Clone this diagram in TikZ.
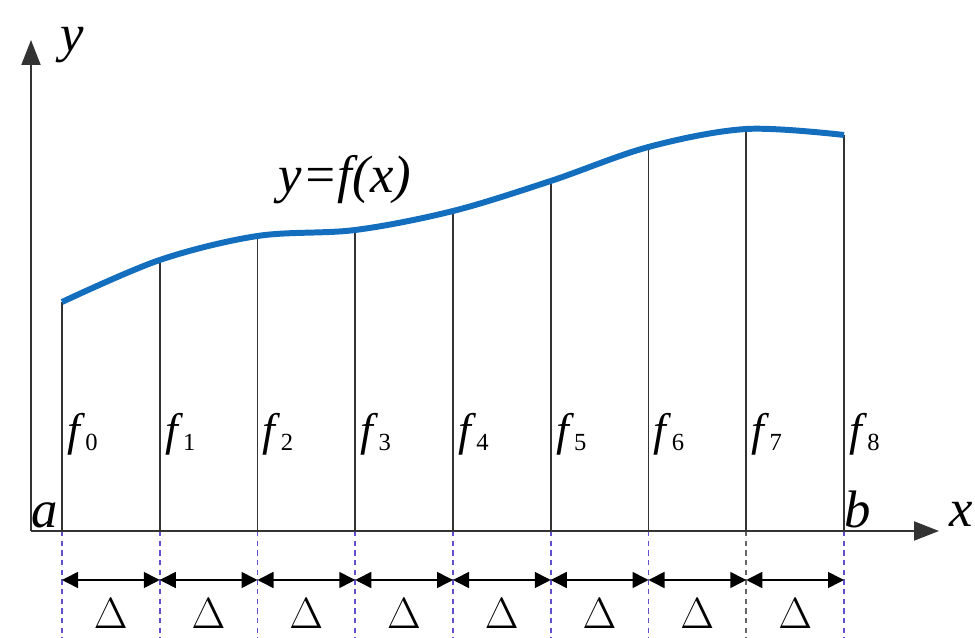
\documentclass[tikz,border=0pt]{standalone}
\usepackage{fontspec}
\setmainfont{Liberation Serif}
\usetikzlibrary{arrows.meta}
\definecolor{curveblue}{RGB}{20,110,190}
\definecolor{dashviolet}{RGB}{95,80,205}
\begin{document}
\begin{tikzpicture}[every node/.style={inner sep=0pt},
  axis/.style={line width=1.2pt,black!80,-{Triangle[length=0.5cm,width=0.38cm]}},
  ordinate/.style={line width=1pt,black!80},
  guide/.style={line width=1pt,dash pattern=on 3pt off 2.5pt},
  dim/.style={line width=0.9pt,{Triangle[length=0.32cm,width=0.32cm]}-{Triangle[length=0.32cm,width=0.32cm]}},
  lab/.style={font=\fontsize{30}{30}\selectfont\itshape,anchor=base},
  flab/.style={font=\fontsize{26}{26}\selectfont,anchor=base west},
  dlab/.style={font=\fontsize{33}{33}\selectfont,anchor=base}]
\useasboundingbox (0,0) rectangle (19.5,12.76);
\coordinate (O) at (0.62,2.14);
\coordinate (xtip) at (18.78,2.14);
\coordinate (ytip) at (0.62,11.96);
\foreach \i/\x/\y in {0/1.24/6.72,1/3.195/7.56,2/5.15/8.04,3/7.105/8.16,4/9.06/8.54,5/11.015/9.14,6/12.97/9.82,7/14.925/10.18,8/16.88/10.06}{
  \coordinate (t\i) at (\x,\y);
  \coordinate (b\i) at (\x,2.14);
  \coordinate (d\i) at (\x,1.16);
  \coordinate (e\i) at (\x,0);
  \draw[ordinate] (t\i) -- (b\i);
  \node[flab] (f\i) at (\x+0.1,3.85) {\textit{f}\raisebox{-0.25ex}{\fontsize{14}{14}\selectfont\i}};
}
\foreach \i/\c in {0/dashviolet,1/dashviolet,2/dashviolet,3/dashviolet,4/dashviolet,5/dashviolet,6/dashviolet,7/black!60,8/dashviolet}
  \draw[guide,\c] (b\i) -- (e\i);
\foreach \i [evaluate=\i as \j using int(\i+1)] in {0,...,7}
  \draw[dim] (d\i) -- (d\j) node[dlab,midway,yshift=-0.98cm] (D\i) {$\Delta$};
\draw[line width=3.4pt,curveblue] plot[smooth,tension=0.55] coordinates {(t0) (t1) (t2) (t3) (t4) (t5) (t6) (t7) (t8)};
\draw[axis] (O) -- (xtip);
\draw[axis] (O) -- (ytip);
\node[lab] (ylab) at (1.44,11.72) {y};
\node[lab] (xlab) at (19.22,2.22) {x};
\node[lab] (alab) at (0.9,2.2) {a};
\node[lab] (blab) at (17.16,2.2) {b};
\node[lab] (curvelab) at (6.9,8.9) {y=f(x)};
\end{tikzpicture}
\end{document}
